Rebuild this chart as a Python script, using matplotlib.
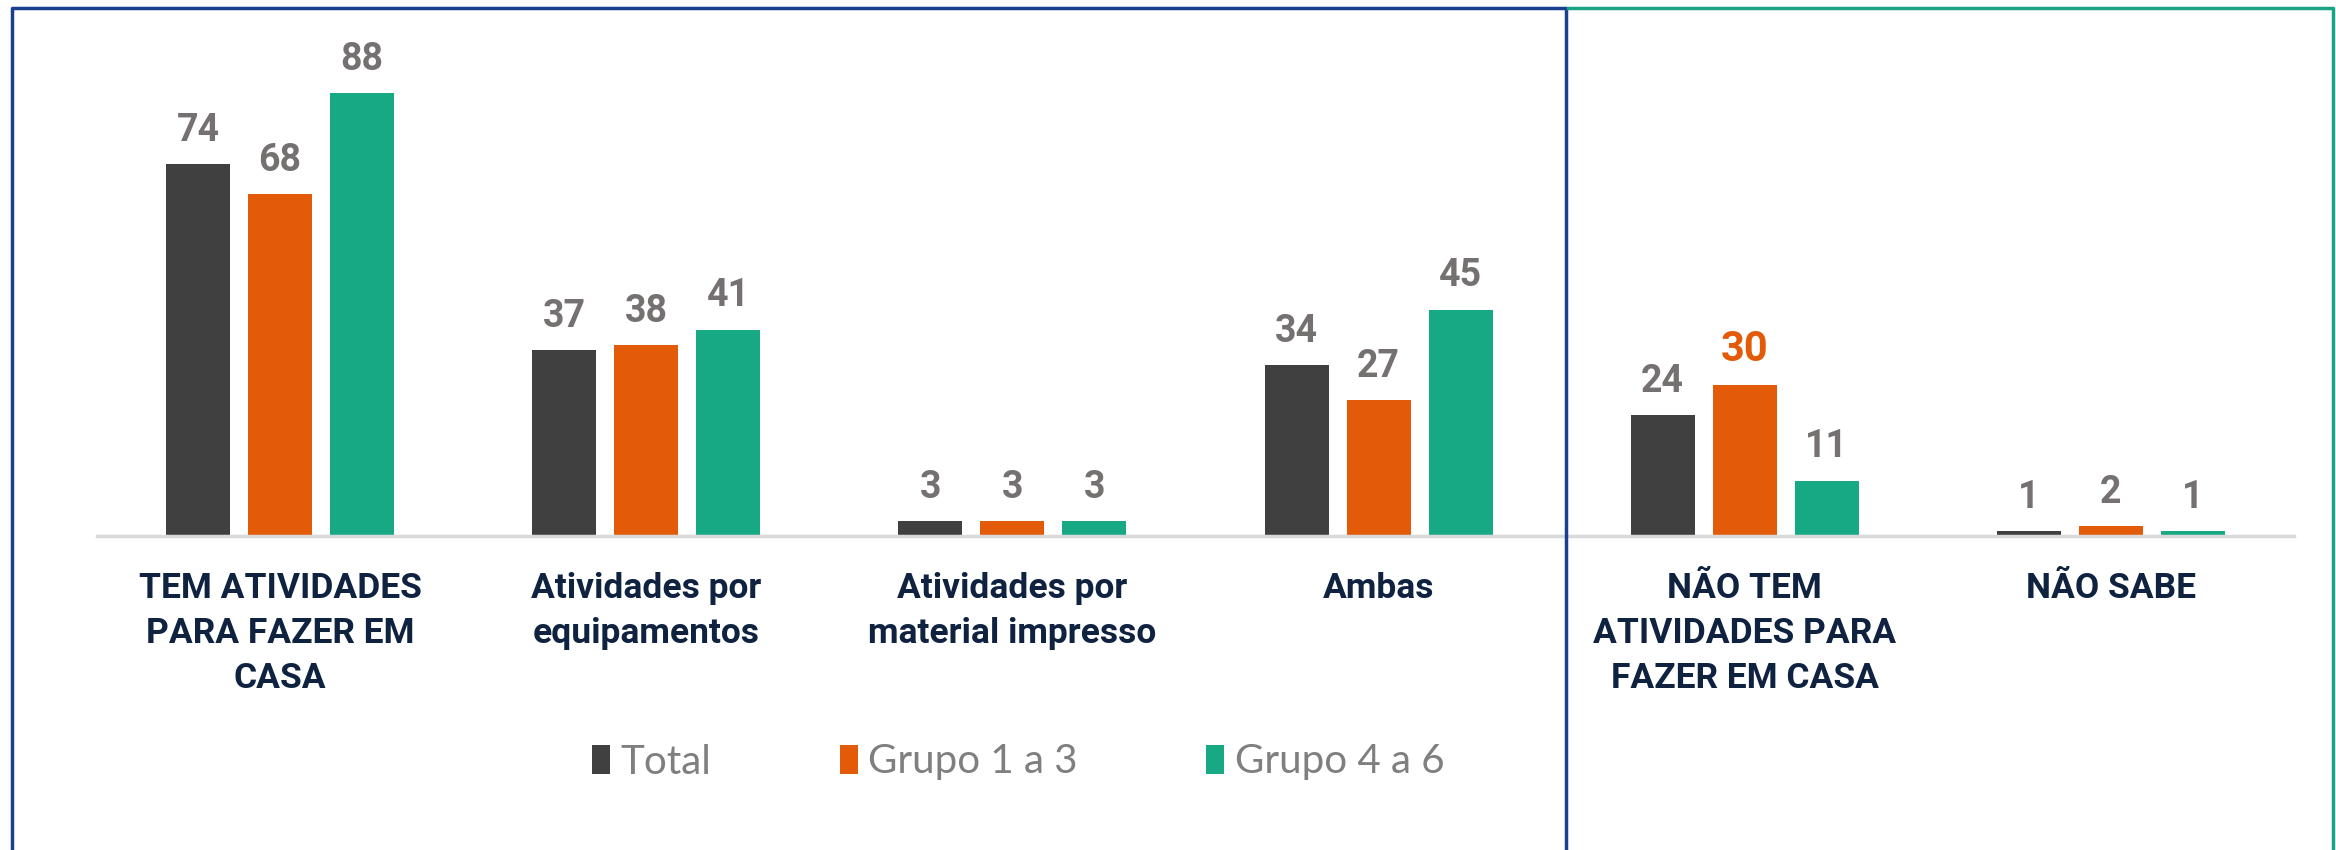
import matplotlib
matplotlib.use('Agg')
import matplotlib.pyplot as plt
from matplotlib.lines import Line2D
import numpy as np

# ================= dados =================
categorias = [
    'TEM ATIVIDADES\nPARA FAZER EM\nCASA',
    'Atividades por\nequipamentos',
    'Atividades por\nmaterial impresso',
    'Ambas',
    'NÃO TEM\nATIVIDADES PARA\nFAZER EM CASA',
    'NÃO SABE',
]
total = [74, 37, 3, 34, 24, 1]
grupo_1_3 = [68, 38, 3, 27, 30, 2]
grupo_4_6 = [88, 41, 3, 45, 11, 1]
series_nomes = ['Total', 'Grupo 1 a 3', 'Grupo 4 a 6']

# ================= estilo =================
cor_total = '#404040'
cor_g13 = '#E35B08'
cor_g46 = '#17A884'
cor_rotulo = '#767171'
cor_categoria = '#0F2340'
cor_azul = '#1B3F8F'
cor_verde = '#1AA385'

fonte_cat = ['Roboto', 'DejaVu Sans']
fonte_num = ['Roboto', 'DejaVu Sans']
fonte_legenda = ['Lato', 'DejaVu Sans']

fig = plt.figure(figsize=(23.36, 8.5), dpi=100)
ax = fig.add_axes([97 / 2336, 1 - 536 / 850, (2294 - 97) / 2336, (536 - 33) / 850])

x = np.arange(len(categorias))
largura = 0.175
passo = 0.224
cores = [cor_total, cor_g13, cor_g46]
valores = [total, grupo_1_3, grupo_4_6]

for i, (vals, cor, nome) in enumerate(zip(valores, cores, series_nomes)):
    pos = x + (i - 1) * passo
    barras = ax.bar(pos, vals, width=largura, color=cor, label=nome, zorder=2)
    for j, (b, v) in enumerate(zip(barras, vals)):
        destaque = (i == 1 and j == 4)
        ax.annotate(str(v), (b.get_x() + b.get_width() / 2, v),
                    xytext=(0, 11), textcoords='offset points',
                    ha='center', va='bottom',
                    fontsize=30 if destaque else 27, fontweight='bold',
                    color=cor_g13 if destaque else cor_rotulo,
                    family=fonte_num)

ax.set_xlim(-0.5, 5.5)
ax.set_ylim(0, 100)
ax.set_xticks(x)
ax.set_xticklabels(categorias, fontsize=25.5, fontweight='bold', color=cor_categoria,
                   family=fonte_cat, linespacing=1.45, ha='center', va='top')
ax.tick_params(axis='x', length=0, pad=26)
ax.set_yticks([])
for lado in ['top', 'right', 'left']:
    ax.spines[lado].set_visible(False)
ax.spines['bottom'].set_color('#D9D9D9')
ax.spines['bottom'].set_linewidth(2.5)

leg = fig.legend(loc='center', bbox_to_anchor=(1018 / 2336, 1 - 762 / 850), ncol=3,
                 frameon=False, handlelength=0.45, handleheight=0.75,
                 handletextpad=0.25, columnspacing=3.2,
                 prop={'family': fonte_legenda, 'size': 29})
for t in leg.get_texts():
    t.set_color('#7F7F7F')

# molduras
def linha(xs, ys, cor):
    fig.add_artist(Line2D([v / 2336 for v in xs], [1 - v / 850 for v in ys],
                          color=cor, linewidth=2.5, transform=fig.transFigure))

linha([12, 12, 1566, 1566], [850, 8, 8, 850], cor_azul)
linha([1568, 2333, 2333], [8, 8, 850], cor_verde)

plt.savefig('out.png', dpi=100)
plt.close()
